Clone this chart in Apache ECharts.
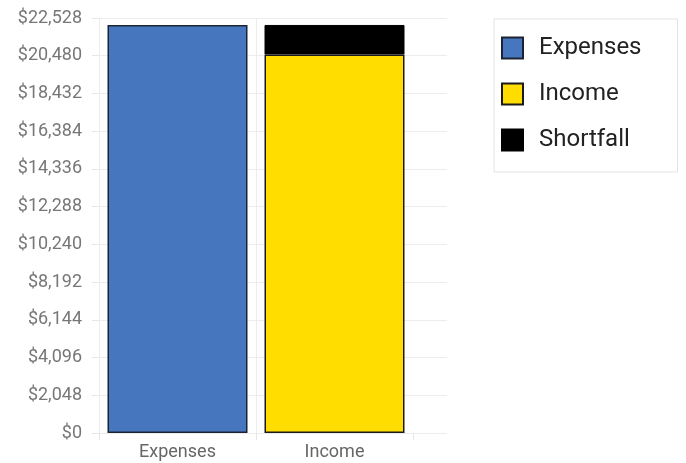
<!DOCTYPE html>
<html><head><meta charset="utf-8">
<script src="https://cdn.jsdelivr.net/npm/echarts@6/dist/echarts.min.js"></script>
<style>html,body{margin:0;padding:0;background:#fff}#c{width:686px;height:463px}</style>
</head><body><div id="c"></div>
<script>
const categories = ['Expenses', 'Income'];
const expenses = [22150, '-'];
const income = ['-', 20550];
const shortfall = ['-', 1600];
const yMax = 22528;
const yInterval = 2048;

const chart = echarts.init(document.getElementById('c'), null, {renderer: 'canvas'});
const font = 'Roboto, Arial, sans-serif';
chart.setOption({
  animation: false,
  grid: [
    {left: 99, width: 314, top: 18, bottom: 30},
    {left: 99, right: 239, top: 18, bottom: 30}
  ],
  legend: {
    orient: 'vertical', left: 494, top: 19,
    padding: [17, 36, 20, 7],
    borderColor: '#e3e3e3', borderWidth: 1,
    itemWidth: 21, itemHeight: 21, itemGap: 22,
    icon: 'rect',
    textStyle: {fontFamily: font, fontSize: 24, color: '#222', padding: [0, 0, 0, 11]},
    data: ['Expenses', 'Income', 'Shortfall']
  },
  xAxis: [
    {type: 'category', gridIndex: 0, data: categories,
     axisLine: {show: false},
     axisTick: {show: true, length: 7, lineStyle: {color: '#e6e6e6'}},
     splitLine: {show: true, lineStyle: {color: ['#ececec', '#ececec', 'rgba(0,0,0,0)']}},
     axisLabel: {fontFamily: font, fontSize: 18, color: '#666', margin: 10}},
    {type: 'value', gridIndex: 1, show: false}
  ],
  yAxis: [
    {type: 'value', gridIndex: 0, min: 0, max: yMax, interval: yInterval,
     axisLine: {show: false}, axisTick: {show: false},
     splitLine: {show: false},
     axisLabel: {fontFamily: font, fontSize: 18, color: '#777', margin: 17,
       formatter: v => '$' + v.toLocaleString('en-US')}},
    {type: 'value', gridIndex: 1, min: 0, max: yMax, interval: yInterval,
     axisLine: {show: false},
     axisTick: {show: true, length: 7, lineStyle: {color: '#e6e6e6'}},
     splitLine: {show: true, lineStyle: {color: '#ececec'}},
     axisLabel: {show: false}}
  ],
  series: [
    {name: 'Expenses', type: 'bar', stack: 'total', xAxisIndex: 0, yAxisIndex: 0, barWidth: 140, data: expenses,
     itemStyle: {color: '#4677be', borderColor: '#1c2433', borderWidth: 1.5}},
    {name: 'Income', type: 'bar', stack: 'total', xAxisIndex: 0, yAxisIndex: 0, barWidth: 140, data: income,
     itemStyle: {color: '#ffdd00', borderColor: '#1a1a1a', borderWidth: 1.5}},
    {name: 'Shortfall', type: 'bar', stack: 'total', xAxisIndex: 0, yAxisIndex: 0, barWidth: 140, data: shortfall,
     itemStyle: {color: '#000', borderColor: '#000', borderWidth: 1}}
  ]
});
</script></body></html>
